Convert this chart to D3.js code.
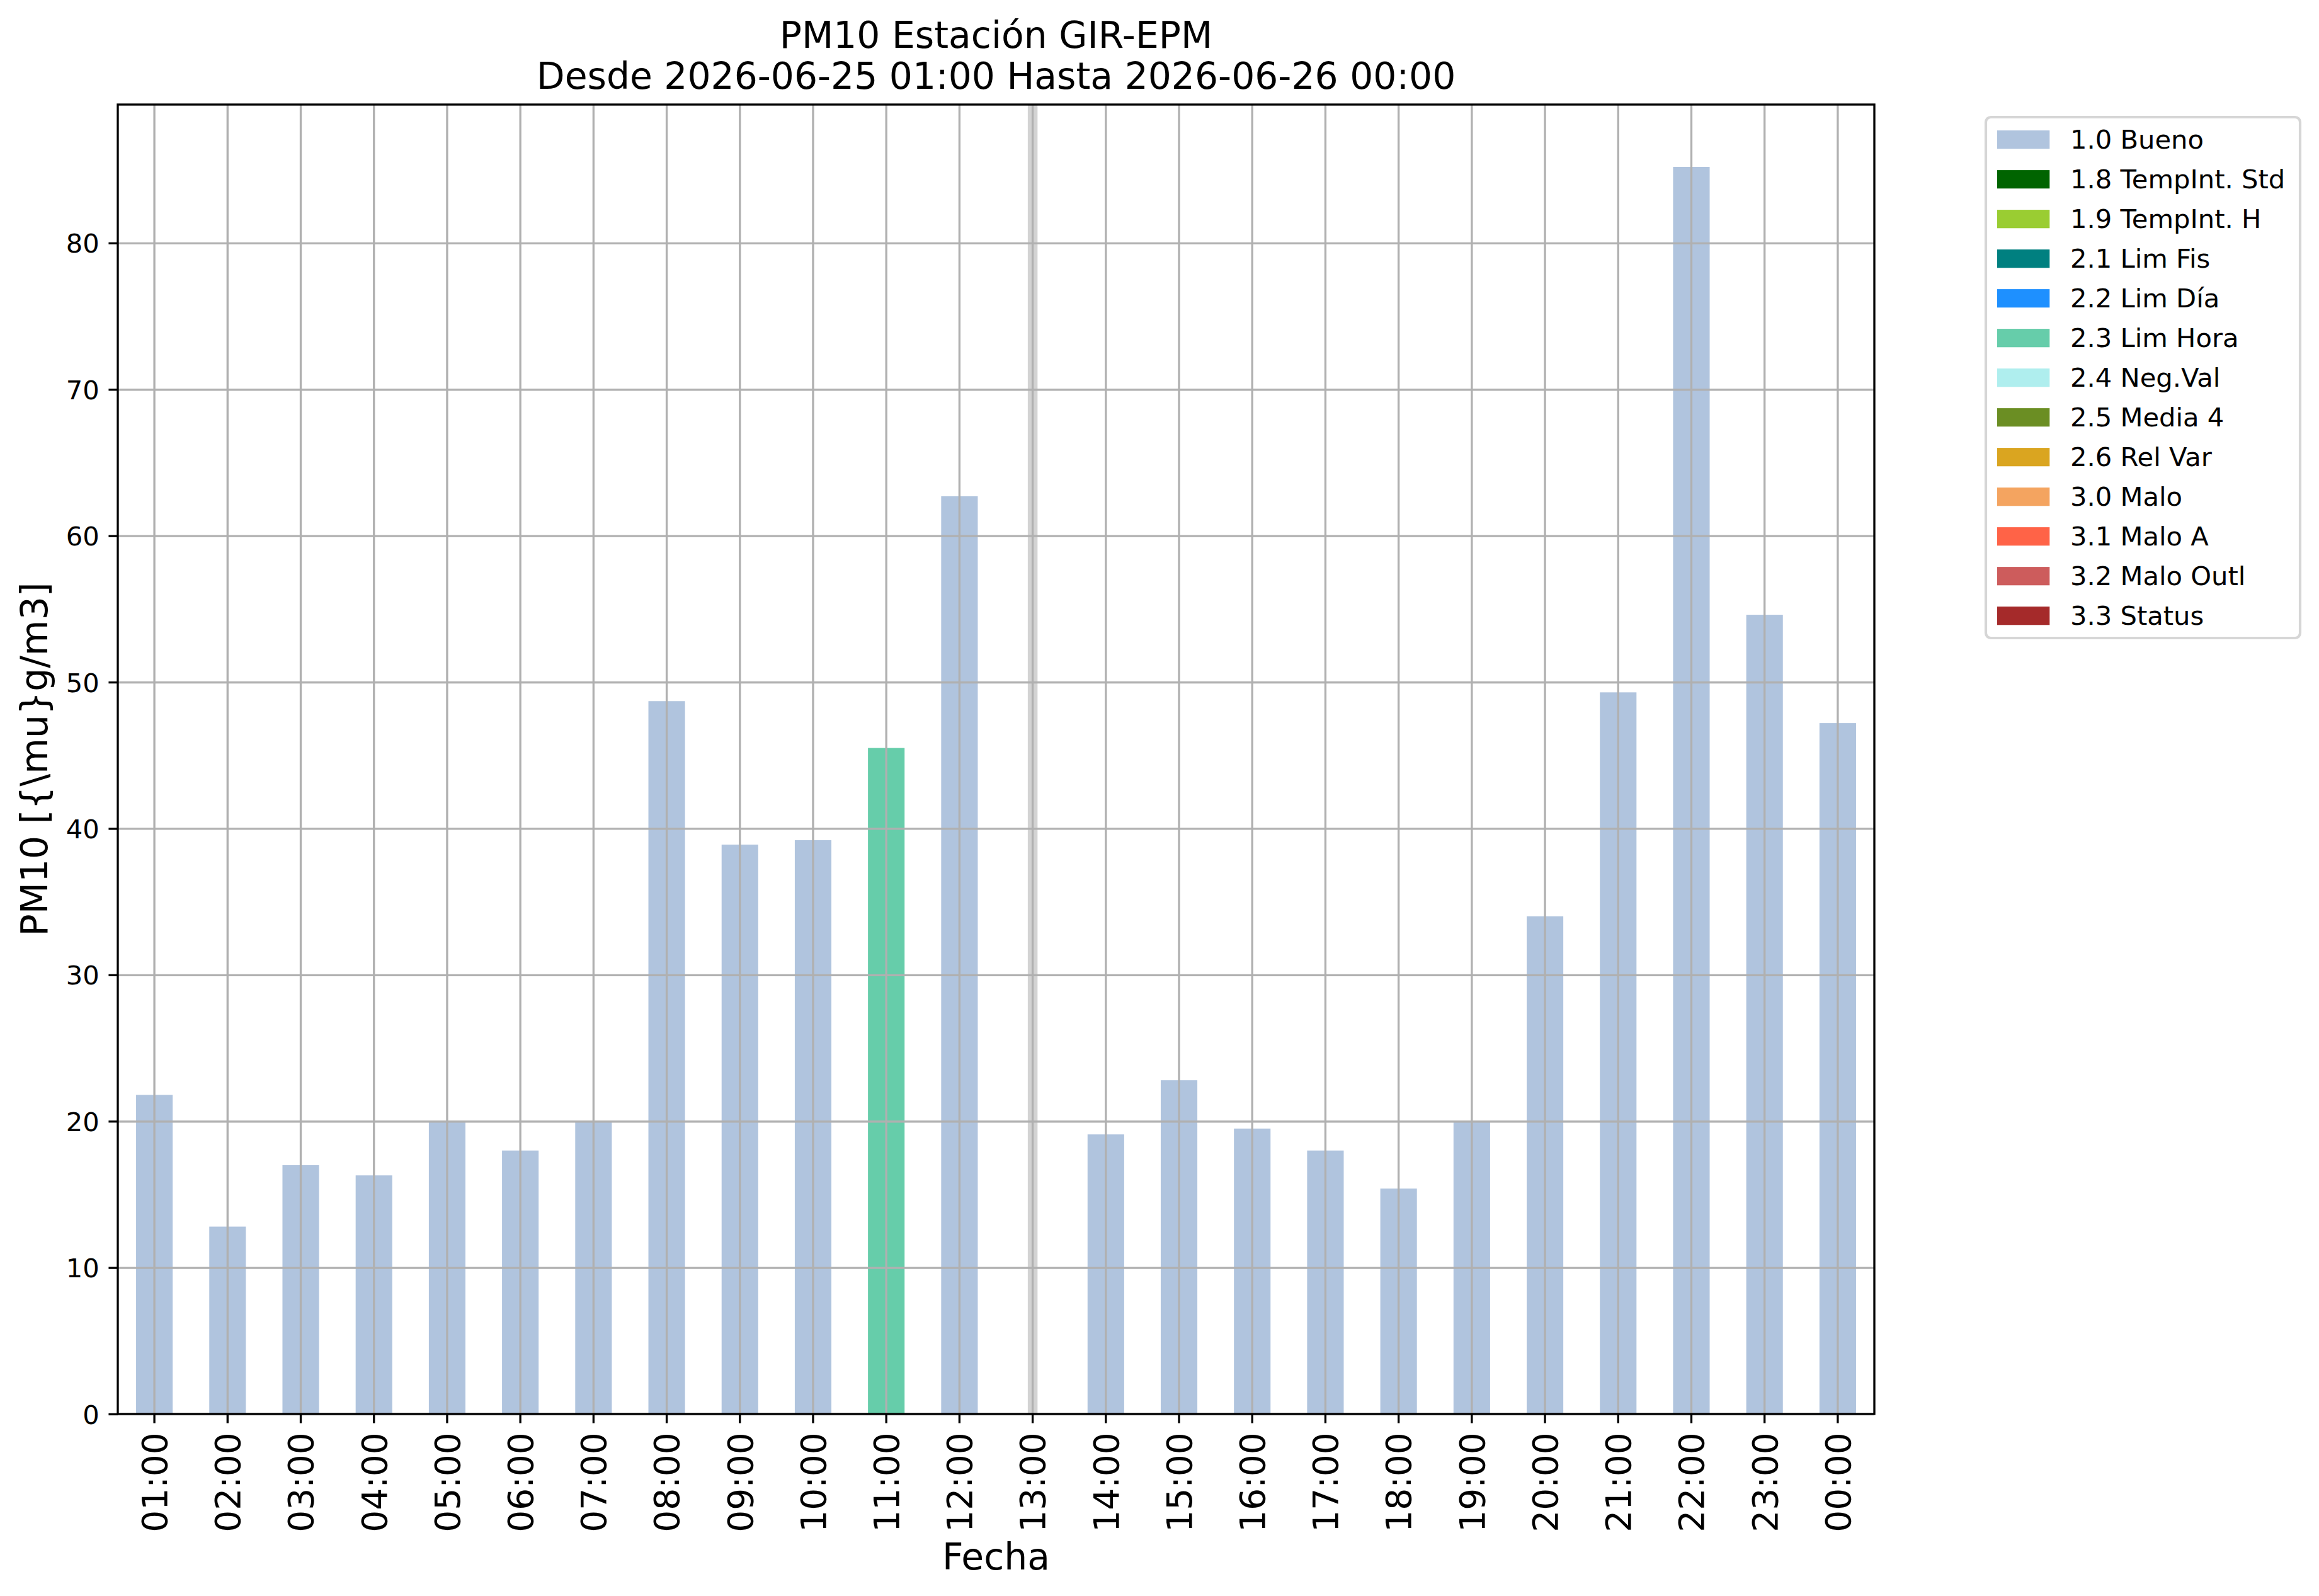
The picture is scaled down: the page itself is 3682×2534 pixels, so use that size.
<!DOCTYPE html>
<html>
<head>
<meta charset="utf-8">
<script src="https://cdn.jsdelivr.net/npm/d3@7"></script>
<style>
body{margin:0;background:#fff}
svg{display:block;font-family:"DejaVu Sans",sans-serif}
</style>
</head>
<body>
<script>
// chart data
const hours = ["01:00","02:00","03:00","04:00","05:00","06:00","07:00","08:00","09:00","10:00","11:00","12:00",
  "13:00","14:00","15:00","16:00","17:00","18:00","19:00","20:00","21:00","22:00","23:00","00:00"]
const pm10 = [21.8,12.8,17.0,16.3,20.0,18.0,20.0,48.7,38.9,39.2,45.5,62.7,
  null,19.1,22.8,19.5,18.0,15.4,20.0,34.0,49.3,85.2,54.6,47.2]
const flags = ["1.0","1.0","1.0","1.0","1.0","1.0","1.0","1.0","1.0","1.0","2.3","1.0",
  null,"1.0","1.0","1.0","1.0","1.0","1.0","1.0","1.0","1.0","1.0","1.0"]
const missingHours = ["13:00"]
const flagCodes = ["1.0","1.8","1.9","2.1","2.2","2.3","2.4","2.5","2.6","3.0","3.1","3.2","3.3"]
const flagNames = ["Bueno","TempInt. Std","TempInt. H","Lim Fis","Lim Día","Lim Hora","Neg.Val","Media 4","Rel Var","Malo","Malo A","Malo Outl","Status"]
const flagColors = ["#b0c4de","#006400","#9acd32","#008080","#1e90ff","#66cdaa","#afeeee","#6b8e23","#daa520","#f4a460","#ff6347","#cd5c5c","#a52a2a"]
const yTicks = [0,10,20,30,40,50,60,70,80]
const titleLines = ["PM10 Estación GIR-EPM","Desde 2026-06-25 01:00 Hasta 2026-06-26 00:00"]
const xLabel = "Fecha"
const yLabel = "PM10 [{\\mu}g/m3]"

const W = 3682, H = 2534
const pt = 4.1667
const pLeft = 187, pRight = 2976, pTop = 166, pBottom = 2245
const grid = "#b0b0b0"

const svg = d3.select("body").append("svg").attr("width", W).attr("height", H)
svg.append("rect").attr("width", W).attr("height", H).attr("fill", "#fff")

const x = d3.scaleBand().domain(hours).range([pLeft, pRight]).paddingInner(0.5).paddingOuter(0.25)
const y = d3.scaleLinear().domain([0, d3.max(pm10) * 1.05]).range([pBottom, pTop])
const color = d3.scaleOrdinal().domain(flagCodes).range(flagColors)
const cx = h => x(h) + x.bandwidth() / 2

// missing hour marker
svg.append("g").selectAll("line").data(missingHours).enter().append("line")
  .attr("x1", cx).attr("x2", cx).attr("y1", pTop).attr("y2", pBottom)
  .attr("stroke", "#d3d3d3").attr("stroke-width", 15.5)

// bars
const rows = hours.map((h, i) => ({h: h, v: pm10[i], f: flags[i]})).filter(d => d.v != null)
svg.append("g").selectAll("rect").data(rows).enter().append("rect")
  .attr("x", d => x(d.h)).attr("width", x.bandwidth())
  .attr("y", d => y(d.v)).attr("height", d => y(0) - y(d.v))
  .attr("fill", d => color(d.f))

// grid
const gx = svg.append("g").attr("transform", "translate(0," + pBottom + ")")
  .call(d3.axisBottom(x).tickSize(-(pBottom - pTop)).tickFormat(""))
const gy = svg.append("g").attr("transform", "translate(" + pLeft + ",0)")
  .call(d3.axisLeft(y).tickValues(yTicks).tickSize(-(pRight - pLeft)).tickFormat(""))
;[gx, gy].forEach(g => {
  g.select(".domain").remove()
  g.selectAll("line").attr("stroke", grid).attr("stroke-width", 0.8 * pt)
})

// frame
svg.append("rect").attr("x", pLeft).attr("y", pTop).attr("width", pRight - pLeft).attr("height", pBottom - pTop)
  .attr("fill", "none").attr("stroke", "#000").attr("stroke-width", 0.8 * pt)

// axes
const ax = svg.append("g").attr("transform", "translate(0," + pBottom + ")")
  .call(d3.axisBottom(x).tickSize(3.5 * pt).tickPadding(3.5 * pt))
ax.select(".domain").remove()
ax.selectAll("line").attr("stroke", "#000").attr("stroke-width", 0.8 * pt)
ax.selectAll("text").attr("font-size", 55).attr("font-family", "DejaVu Sans").attr("fill", "#000")
  .attr("transform", "rotate(-90)").attr("text-anchor", "end")
  .attr("x", -7 * pt).attr("y", 0).attr("dy", "0.36em")

const ay = svg.append("g").attr("transform", "translate(" + pLeft + ",0)")
  .call(d3.axisLeft(y).tickValues(yTicks).tickSize(3.5 * pt).tickPadding(3.5 * pt))
ay.select(".domain").remove()
ay.selectAll("line").attr("stroke", "#000").attr("stroke-width", 0.8 * pt)
ay.selectAll("text").attr("font-size", 10 * pt).attr("font-family", "DejaVu Sans").attr("fill", "#000").attr("dy", "0.36em")

// titles and labels
const midX = (pLeft + pRight) / 2
svg.append("text").attr("x", midX).attr("y", 76).attr("text-anchor", "middle").attr("font-size", 14 * pt).text(titleLines[0])
svg.append("text").attr("x", midX).attr("y", 141).attr("text-anchor", "middle").attr("font-size", 14 * pt).text(titleLines[1])
svg.append("text").attr("x", midX).attr("y", 2492).attr("text-anchor", "middle").attr("font-size", 14 * pt).text(xLabel)
svg.append("text").attr("transform", "translate(75," + ((pTop + pBottom) / 2) + ") rotate(-90)")
  .attr("text-anchor", "middle").attr("font-size", 14 * pt).text(yLabel)

// legend
const lg = svg.append("g").attr("transform", "translate(3153,186)")
lg.append("rect").attr("width", 499).attr("height", 827).attr("rx", 8).attr("ry", 8)
  .attr("fill", "#fff").attr("stroke", "#d6d6d6").attr("stroke-width", pt)
const item = lg.selectAll("g.item").data(flagCodes).enter().append("g").attr("class", "item")
  .attr("transform", (d, i) => "translate(0," + (35.7 + i * 63) + ")")
item.append("rect").attr("x", 18).attr("y", -14.6).attr("width", 83.3).attr("height", 29.2).attr("fill", d => color(d))
item.append("text").attr("x", 134).attr("y", 14.5).attr("font-size", 10 * pt)
  .text((d, i) => d + " " + flagNames[i])
</script>
</body>
</html>
